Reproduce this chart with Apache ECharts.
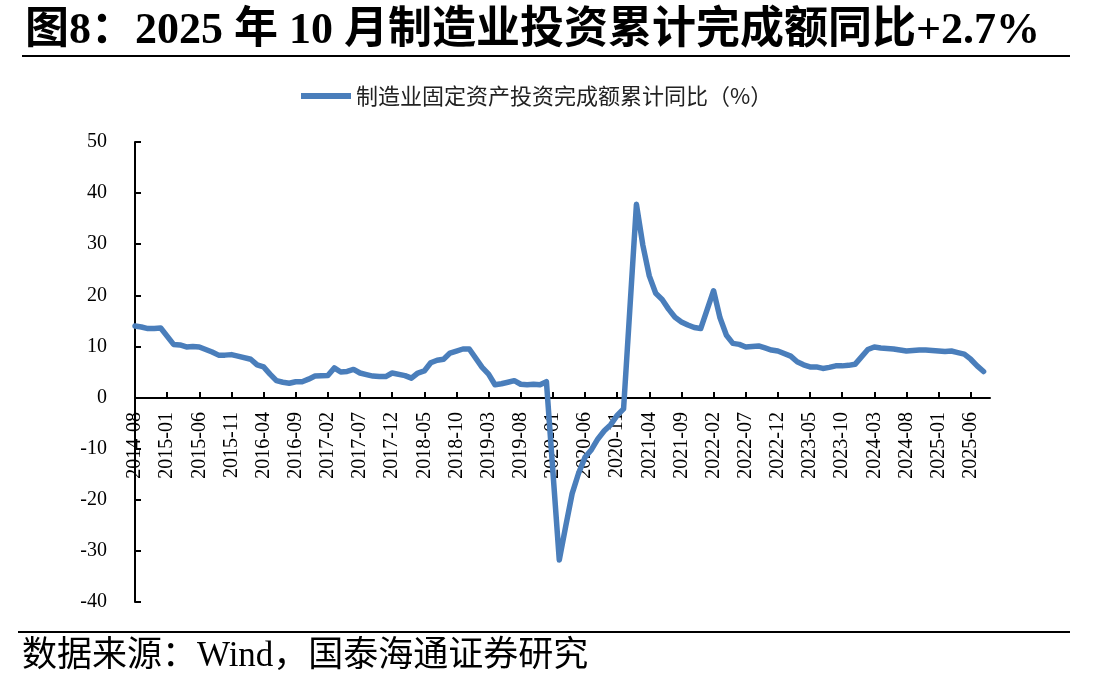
<!DOCTYPE html>
<html>
<head>
<meta charset="utf-8">
<style>
  html, body { margin: 0; padding: 0; background: #fff; }
  #container { width: 1108px; height: 692px; }
</style>
<script src="https://cdn.jsdelivr.net/npm/echarts@6/dist/echarts.min.js"></script>
</head>
<body>
<div id="container"></div>
<script>
// 制造业固定资产投资完成额累计同比（%），1月无单月数据（null）
var y2014 = [14.0, 13.8, 13.5, 13.5, 13.6];                                   // 08-12
var y2015 = [null, 10.4, 10.3, 9.9, 10.0, 9.9, 9.4, 8.9, 8.3, 8.3, 8.4, 8.1];
var y2016 = [null, 7.5, 6.4, 6.0, 4.6, 3.3, 3.0, 2.8, 3.1, 3.1, 3.6, 4.2];
var y2017 = [null, 4.3, 5.8, 5.0, 5.1, 5.5, 4.8, 4.5, 4.2, 4.1, 4.1, 4.8];
var y2018 = [null, 4.3, 3.8, 4.8, 5.2, 6.8, 7.3, 7.5, 8.7, 9.1, 9.5, 9.5];
var y2019 = [null, 5.9, 4.6, 2.5, 2.7, 3.0, 3.3, 2.6, 2.5, 2.6, 2.5, 3.1];
var y2020 = [null, -31.8, -25.2, -18.8, -14.8, -11.7, -10.2, -8.1, -6.5, -5.3, -3.5, -2.2];
var y2021 = [null, 37.8, 29.8, 23.8, 20.4, 19.2, 17.3, 15.7, 14.8, 14.2, 13.7, 13.5];
var y2022 = [null, 20.9, 15.6, 12.2, 10.6, 10.4, 9.9, 10.0, 10.1, 9.7, 9.3, 9.1];
var y2023 = [null, 8.1, 7.0, 6.4, 6.0, 6.0, 5.7, 5.9, 6.2, 6.2, 6.3, 6.5];
var y2024 = [null, 9.4, 9.9, 9.7, 9.6, 9.5, 9.3, 9.1, 9.2, 9.3, 9.3, 9.2];
var y2025 = [null, 9.0, 9.1, 8.8, 8.5, 7.5, 6.2, 5.1, null];                 // 01-09

var seriesName = "制造业固定资产投资完成额累计同比（%）";
var titleText = "图8：2025 年 10 月制造业投资累计完成额同比+2.7%";
var sourceText = "数据来源：Wind，国泰海通证券研究";

var values = [].concat(y2014, y2015, y2016, y2017, y2018, y2019, y2020,
                       y2021, y2022, y2023, y2024, y2025);

// 月份类目：2014-08 至 2025-09
var months = [];
for (var y = 2014; y <= 2025; y++) {
    for (var m = 1; m <= 12; m++) {
        if (y == 2014 && m < 8) continue;
        if (y == 2025 && m > 9) continue;
        months.push(y + "-" + (m < 10 ? "0" + m : m));
    }
}

var serif = "'Liberation Serif', 'Times New Roman', 'Noto Sans CJK SC', serif";
var myChart = echarts.init(document.getElementById("container"));
myChart.setOption({
    animation: false,
    backgroundColor: "#fff",
    title: {
        text: titleText,
        left: 20,
        top: 5,
        textStyle: {
            fontFamily: serif,
            fontWeight: "bold",
            fontSize: 44,
            color: "#000"
        }
    },
    legend: {
        data: [seriesName],
        left: 296,
        top: 80,
        icon: "rect",
        itemWidth: 50,
        itemHeight: 6,
        itemGap: 6,
        textStyle: {
            fontFamily: "'Noto Sans CJK SC', sans-serif",
            fontSize: 22,
            color: "#222"
        }
    },
    graphic: [
        { type: "line", shape: { x1: 22, y1: 56, x2: 1070, y2: 56 }, style: { stroke: "#000", lineWidth: 2 } },
        { type: "line", shape: { x1: 18, y1: 632, x2: 1070, y2: 632 }, style: { stroke: "#000", lineWidth: 2 } },
        {
            type: "text", left: 22, top: 639,
            style: { text: sourceText, font: "35px " + serif, fill: "#000" }
        }
    ],
    grid: {
        left: 135,
        right: 118,
        top: 142,
        bottom: 90,
        containLabel: false
    },
    xAxis: {
        type: "category",
        boundaryGap: false,
        data: months,
        offset: -204,
        axisLine: { onZero: false, lineStyle: { color: "#000", width: 2 } },
        axisTick: { show: true, inside: true, interval: 4, length: 6, lineStyle: { color: "#000", width: 2 } },
        axisLabel: {
            interval: 4,
            rotate: 90,
            margin: 14,
            fontFamily: serif,
            fontSize: 20,
            color: "#000"
        },
        splitLine: { show: false }
    },
    yAxis: {
        type: "value",
        min: -40,
        max: 50,
        interval: 10,
        axisLine: { show: true, lineStyle: { color: "#000", width: 2 } },
        axisTick: { show: true, inside: true, length: 6, lineStyle: { color: "#000", width: 2 } },
        axisLabel: {
            margin: 28,
            fontFamily: serif,
            fontSize: 20,
            color: "#000"
        },
        splitLine: { show: false }
    },
    series: [
        {
            name: seriesName,
            type: "line",
            data: values,
            connectNulls: true,
            showSymbol: false,
            symbol: "none",
            itemStyle: { color: "#4A7EBB" },
            lineStyle: { color: "#4A7EBB", width: 5.5, cap: "round", join: "round" }
        }
    ]
});
</script>
</body>
</html>
